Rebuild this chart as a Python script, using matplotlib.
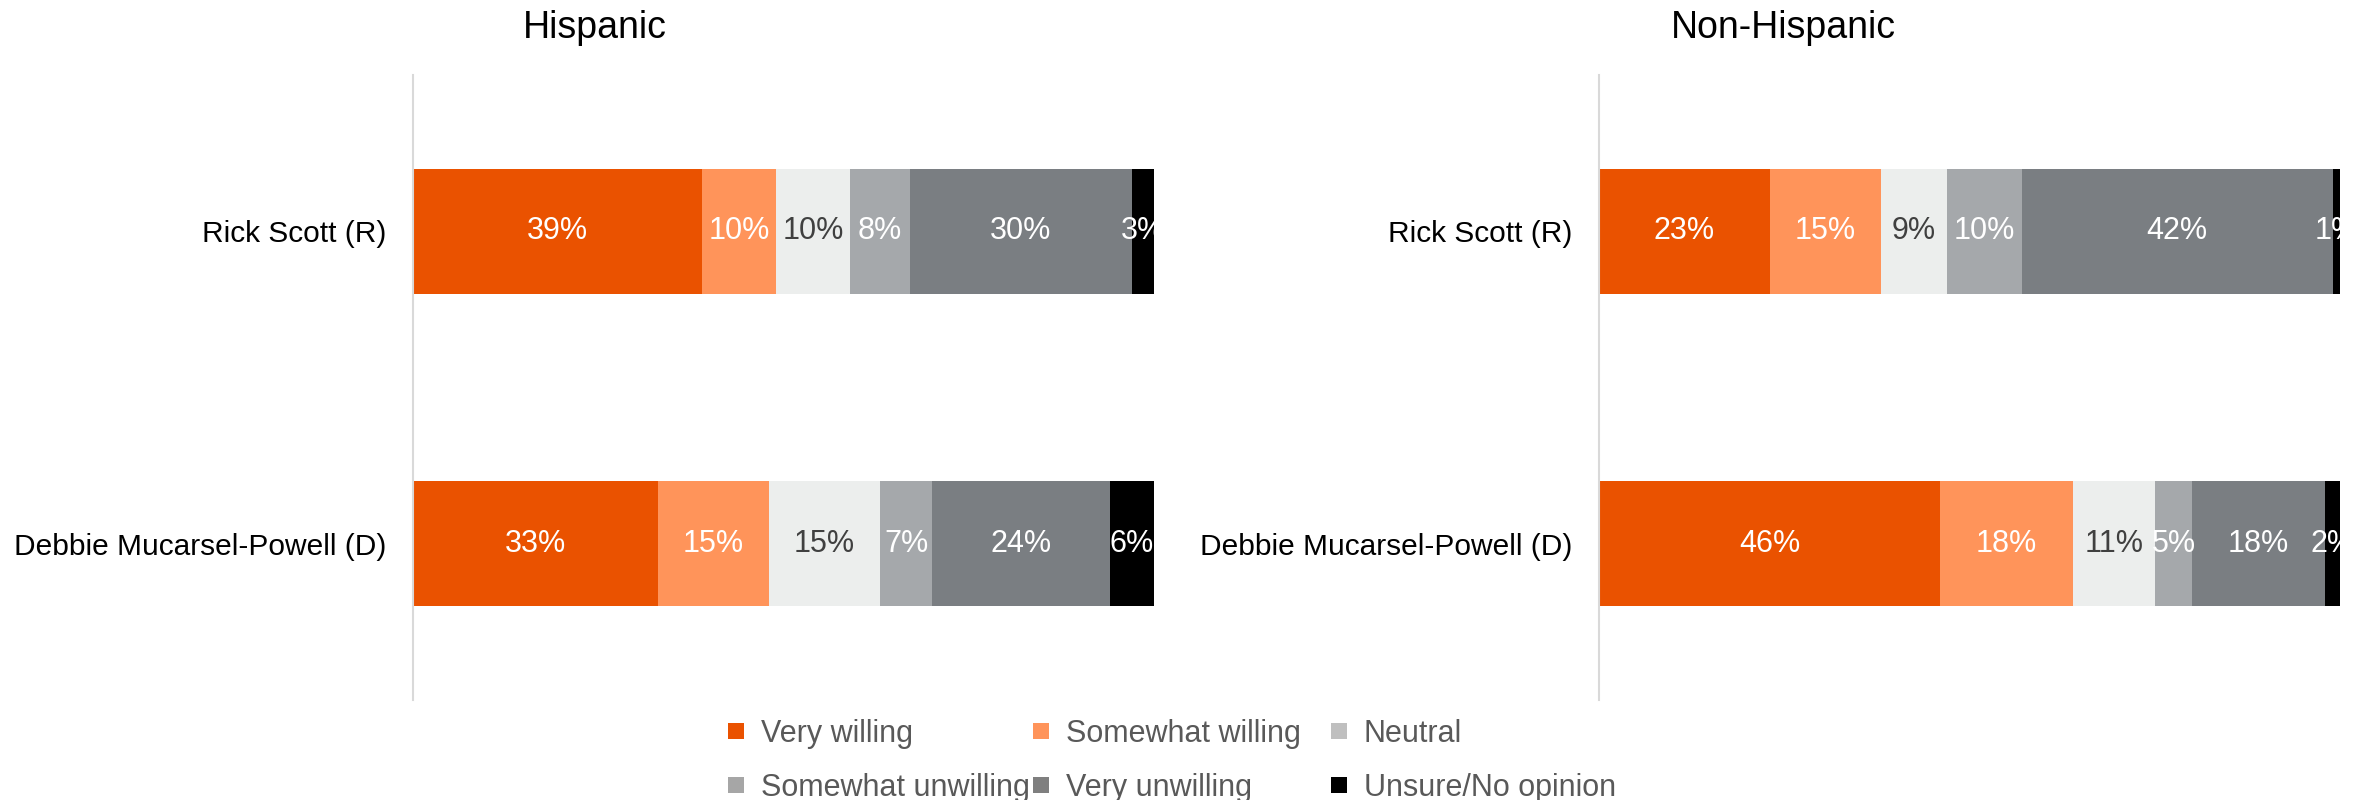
import numpy as np
import matplotlib
matplotlib.use("Agg")
import matplotlib.pyplot as plt
from matplotlib.lines import Line2D

plt.rcParams['font.family'] = ['Liberation Sans', 'DejaVu Sans']

candidates = ["Rick Scott (R)", "Debbie Mucarsel-Powell (D)"]
groups = ["Hispanic", "Non-Hispanic"]
responses = ["Very willing", "Somewhat willing", "Neutral",
             "Somewhat unwilling", "Very unwilling", "Unsure/No opinion"]

# percentages per response, [Rick Scott, Debbie Mucarsel-Powell]
hispanic = {
    "Very willing": [39, 33],
    "Somewhat willing": [10, 15],
    "Neutral": [10, 15],
    "Somewhat unwilling": [8, 7],
    "Very unwilling": [30, 24],
    "Unsure/No opinion": [3, 6],
}
non_hispanic = {
    "Very willing": [23, 46],
    "Somewhat willing": [15, 18],
    "Neutral": [9, 11],
    "Somewhat unwilling": [10, 5],
    "Very unwilling": [42, 18],
    "Unsure/No opinion": [1, 2],
}

bar_colors = ["#EA5200", "#FF945A", "#ECEEED", "#A5A8AB", "#7A7E82", "#000000"]
legend_colors = ["#EA5200", "#FF945A", "#BFBFBF", "#A6A6A6", "#7F7F7F", "#000000"]
label_colors = ["white", "white", "#404040", "white", "white", "white"]

fig = plt.figure(figsize=(23.62, 8), dpi=100)
ax_l = fig.add_axes([0.1749, 0.125, 0.3138, 0.781])
ax_r = fig.add_axes([0.6770, 0.125, 0.3138, 0.781])

y = np.arange(len(candidates))
for ax, data in [(ax_l, hispanic), (ax_r, non_hispanic)]:
    left = np.zeros(len(candidates))
    for resp, col, tcol in zip(responses, bar_colors, label_colors):
        vals = np.array(data[resp], dtype=float)
        ax.barh(y, vals, left=left, height=0.4, color=col, linewidth=0)
        for yi, (l, v) in enumerate(zip(left, vals)):
            ax.text(l + v / 2, yi, f"{int(v)}%", ha="center", va="center",
                    fontsize=22, color=tcol, clip_on=True)
        left += vals
    ax.set_xlim(0, 100)
    ax.set_ylim(1.5, -0.5)
    ax.set_yticks(y)
    ax.set_yticklabels(candidates, fontsize=21.5)
    ax.tick_params(axis="y", length=0, pad=19)
    ax.set_xticks([])
    for s in ["top", "right", "bottom"]:
        ax.spines[s].set_visible(False)
    ax.spines["left"].set_color("#D9D9D9")
    ax.spines["left"].set_linewidth(1.5)

fig.text(0.252, 0.965, groups[0], ha="center", va="center", fontsize=27)
fig.text(0.755, 0.965, groups[1], ha="center", va="center", fontsize=27)

# legend: three columns, two rows
handles = [Line2D([], [], marker="s", linestyle="none", markersize=11,
                  markerfacecolor=c, markeredgewidth=0) for c in legend_colors]
col_x = [0.3065, 0.4356, 0.5618]
for k, x0 in enumerate(col_x):
    idx = [k, k + 3]
    leg = fig.legend([handles[i] for i in idx], [responses[i] for i in idx],
                     loc="center left", bbox_to_anchor=(x0, 0.049),
                     frameon=False, fontsize=22, handlelength=0.8,
                     handletextpad=0.4, borderpad=0, borderaxespad=0,
                     labelspacing=0.77)
    for t in leg.get_texts():
        t.set_color("#595959")

fig.savefig("out.png", dpi=100)
